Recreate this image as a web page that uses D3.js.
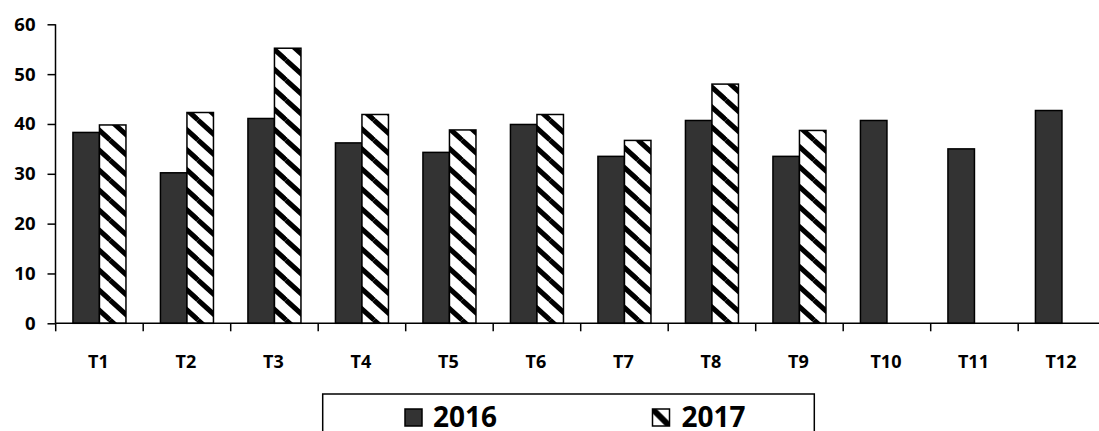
<!DOCTYPE html>
<html>
<head>
<meta charset="utf-8">
<script src="https://cdn.jsdelivr.net/npm/d3@7"></script>
<style>
  body { margin: 0; background: #fff; }
  text { font-family: "Open Sans", sans-serif; font-weight: bold; fill: #000; }
</style>
</head>
<body>
<div id="chart"></div>
<script>
// data
const months = ["T1","T2","T3","T4","T5","T6","T7","T8","T9","T10","T11","T12"];
const years = ["2016","2017"];
const v2016 = [38.3, 30.2, 41.1, 36.2, 34.3, 39.9, 33.5, 40.7, 33.5, 40.7, 35.0, 42.7];
const v2017 = [39.8, 42.3, 55.2, 41.9, 38.8, 41.9, 36.7, 48.0, 38.7, null, null, null];
const yTicks = [0, 10, 20, 30, 40, 50, 60];

const W = 1099, H = 431;
const svg = d3.select("#chart").append("svg").attr("width", W).attr("height", H);

// hatch pattern for 2017 (downward diagonal)
const defs = svg.append("defs");
const pat = defs.append("pattern")
    .attr("id", "hatch")
    .attr("patternUnits", "userSpaceOnUse")
    .attr("width", 22).attr("height", 20);
pat.append("rect").attr("width", 22).attr("height", 20).attr("fill", "#fff");
[[0, 0, 22, 20], [-22, 0, 0, 20], [22, 0, 44, 20], [0, -20, 22, 0], [0, 20, 22, 40]].forEach(l => {
    pat.append("line")
        .attr("x1", l[0]).attr("y1", l[1]).attr("x2", l[2]).attr("y2", l[3])
        .attr("stroke", "#000").attr("stroke-width", 5);
});

const x0 = d3.scaleBand().domain(months).range([55.7, 55.7 + 12 * 87.5]).padding(0);
const bw = x0.bandwidth();
const x1 = d3.scaleBand().domain(years).range([bw * 0.197, bw * 0.803]).padding(0);
const y = d3.scaleLinear().domain([0, 60]).range([323.3, 24.3]);

const fills = { "2016": "#333333", "2017": "url(#hatch)" };
const rows = months.map((m, i) => ({ m: m, vals: [ { k: "2016", v: v2016[i] }, { k: "2017", v: v2017[i] } ] }));

// bars
const g = svg.append("g");
rows.forEach(r => {
    r.vals.filter(d => d.v != null).forEach(d => {
        g.append("rect")
            .attr("x", x0(r.m) + x1(d.k))
            .attr("y", y(d.v))
            .attr("width", x1.bandwidth())
            .attr("height", y(0) - y(d.v))
            .attr("fill", fills[d.k])
            .attr("stroke", "#000")
            .attr("stroke-width", 1.5);
    });
});

// y axis
const yAxis = svg.append("g")
    .attr("transform", "translate(55.5,0)")
    .call(d3.axisLeft(y).tickValues(yTicks).tickSize(8).tickPadding(12).tickFormat(d3.format("d")));
yAxis.selectAll("path, line").attr("stroke", "#000").attr("stroke-width", 1.5);
yAxis.select(".domain").attr("d", "M0," + y(60) + "V" + y(0));
yAxis.selectAll("text").style("font-size", "18.5px").style("font-family", "'Open Sans', sans-serif").style("font-weight", "bold");

// x axis: line + ticks at band boundaries
svg.append("line")
    .attr("x1", 55.5).attr("x2", W).attr("y1", y(0)).attr("y2", y(0))
    .attr("stroke", "#000").attr("stroke-width", 1.5);
months.concat(["end"]).forEach((m, i) => {
    const xx = i < months.length ? x0(m) : x0.range()[1];
    svg.append("line")
        .attr("x1", xx).attr("x2", xx).attr("y1", y(0)).attr("y2", y(0) + 8)
        .attr("stroke", "#000").attr("stroke-width", 1.5);
});
svg.append("g").selectAll("text").data(months).join("text")
    .attr("x", d => x0(d) + bw / 2 - 1)
    .attr("y", 367.5)
    .attr("text-anchor", "middle")
    .style("font-size", "18px")
    .text(d => d);

// legend
svg.append("rect")
    .attr("x", 322.7).attr("y", 394).attr("width", 491.6).attr("height", 60)
    .attr("fill", "#fff").attr("stroke", "#000").attr("stroke-width", 1.5);

const lpat = defs.append("pattern")
    .attr("id", "lhatch")
    .attr("patternUnits", "objectBoundingBox")
    .attr("patternContentUnits", "objectBoundingBox")
    .attr("width", 1).attr("height", 1);
lpat.append("rect").attr("width", 1).attr("height", 1).attr("fill", "#fff");
lpat.append("line").attr("x1", 0).attr("y1", 0).attr("x2", 1).attr("y2", 1)
    .attr("stroke", "#000").attr("stroke-width", 0.35);

const legendItems = [
    { k: years[0], sx: 405, tx: 433, fill: "#333333" },
    { k: years[1], sx: 652.5, tx: 681.5, fill: "url(#lhatch)" }
];
legendItems.forEach(d => {
    svg.append("rect")
        .attr("x", d.sx).attr("y", 409).attr("width", 17).attr("height", 17)
        .attr("fill", d.fill).attr("stroke", "#000").attr("stroke-width", 1.5);
    svg.append("text")
        .attr("x", d.tx).attr("y", 427)
        .style("font-size", "28px")
        .text(d.k);
});
</script>
</body>
</html>
